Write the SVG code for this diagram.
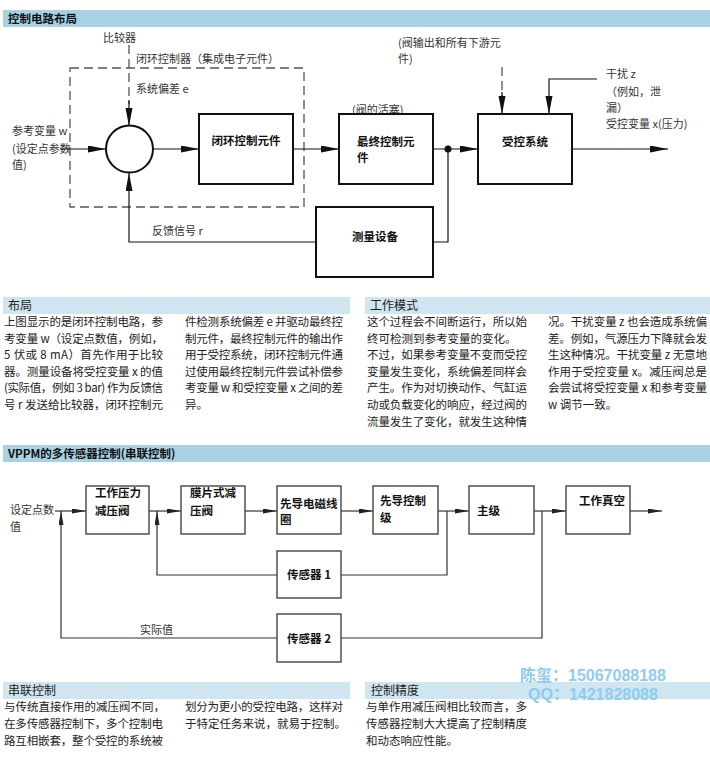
<svg xmlns="http://www.w3.org/2000/svg" width="710" height="770" viewBox="0 0 710 770">
<style>
text{font-family:"Noto Sans CJK SC","Liberation Sans",sans-serif;fill:#222;}
.t{font-size:11.5px;}
.lb{font-size:11px;fill:#333;}
.bx{font-size:11.5px;font-weight:bold;fill:#111;}
.h1{font-size:11.5px;font-weight:bold;fill:#111;}
.h2{font-size:12px;fill:#222;}
.bar1{fill:#a9d1e4;}
.bar2{fill:#cfe5f0;}
.box{fill:#fff;stroke:#111;stroke-width:2;}
.box2{fill:#fff;stroke:#444;stroke-width:1.4;}
.ln{fill:none;stroke:#111;stroke-width:1.2;}
.ln2{fill:none;stroke:#333;stroke-width:1.2;}
.dash{fill:none;stroke:#555;stroke-width:1.3;stroke-dasharray:9 5;}
.wm{font-family:"Liberation Sans","Noto Sans CJK SC",sans-serif;font-size:16px;font-weight:bold;fill:#8ccdf0;}
</style>
<defs>
<marker id="ah" markerUnits="userSpaceOnUse" markerWidth="19" markerHeight="8" refX="18" refY="3.5" orient="auto">
<path d="M0,0 L18,3.5 L0,7 Z" fill="#111"/>
</marker>
<marker id="ah2" markerUnits="userSpaceOnUse" markerWidth="15" markerHeight="6" refX="14" refY="2.5" orient="auto">
<path d="M0,0 L14,2.5 L0,5 Z" fill="#222"/>
</marker>
</defs>

<!-- Section 1 header -->
<rect class="bar1" x="3" y="10" width="707" height="17"/>
<text class="h1" x="8" y="23">控制电路布局</text>

<!-- Top diagram labels -->
<text class="lb" x="103" y="42">比较器</text>
<text class="lb" x="136" y="63">闭环控制器（集成电子元件）</text>
<text class="lb" x="136" y="93">系统偏差 e</text>
<text class="lb" x="12" y="135">参考变量 w</text>
<text class="lb" x="12" y="153">(设定点参数</text>
<text class="lb" x="12" y="169">值)</text>
<text class="lb" x="352" y="114">(阀的活塞)</text>
<text class="lb" x="398" y="47">(阀输出和所有下游元</text>
<text class="lb" x="398" y="63">件)</text>
<text class="lb" x="606" y="78">干扰 z</text>
<text class="lb" x="606" y="96">（例如，泄</text>
<text class="lb" x="606" y="112">漏）</text>
<text class="lb" x="606" y="128">受控变量 x(压力)</text>
<text class="lb" x="152" y="235">反馈信号 r</text>

<!-- Dashed controller box -->
<rect class="dash" x="70" y="68" width="234" height="139"/>

<!-- Connectors top -->
<g id="connectors-top">
<path class="dash" d="M129,45 V104" />
<path class="ln" d="M129,100 V126" marker-end="url(#ah)"/>
<path class="ln" d="M60,149 H106" marker-end="url(#ah)"/>
<path class="ln" d="M153,149 H199" marker-end="url(#ah)"/>
<path class="ln" d="M293,149 H339" marker-end="url(#ah)"/>
<path class="ln" d="M433,149 H478" marker-end="url(#ah)"/>
<path class="ln" d="M572,149 H668" marker-end="url(#ah)"/>
<path class="dash" d="M502,67 V96"/>
<path class="ln" d="M502,92 V114" marker-end="url(#ah)"/>
<path class="ln" d="M597,79 H549 V114" marker-end="url(#ah)"/>
<path class="ln" d="M448,149 V242 H433"/>
<path class="ln" d="M316,242 H129 V173" marker-end="url(#ah)"/>
<circle cx="448" cy="149" r="3.5" fill="#111"/>
</g>

<g id="comparator"><circle cx="129.5" cy="149" r="23.5" fill="#fff" stroke="#111" stroke-width="2"/></g>
<g id="controller-element"><rect class="box" x="199" y="114" width="94" height="70"/><text class="bx" x="246" y="145" text-anchor="middle">闭环控制元件</text></g>
<g id="final-element"><rect class="box" x="339" y="114" width="94" height="70"/><text class="bx" x="357" y="146">最终控制元</text><text class="bx" x="357" y="162">件</text></g>
<g id="controlled-system"><rect class="box" x="478" y="114" width="94" height="70"/><text class="bx" x="525" y="146" text-anchor="middle">受控系统</text></g>
<g id="measuring"><rect class="box" x="316" y="207" width="117" height="70"/><text class="bx" x="375" y="241" text-anchor="middle">测量设备</text></g>

<!-- Layout text -->
<rect class="bar2" x="3" y="297" width="347" height="17"/>
<text class="h2" x="8" y="310">布局</text>
<g class="t">
<text class="t" x="4" y="326" textLength="159" lengthAdjust="spacing">上图显示的是闭环控制电路，参</text>
<text class="t" x="4" y="342.6" textLength="159" lengthAdjust="spacing">考变量 w（设定点数值，例如，</text>
<text class="t" x="4" y="359.2" textLength="159" lengthAdjust="spacing">5 伏或 8 mA）首先作用于比较</text>
<text class="t" x="4" y="375.8" textLength="159" lengthAdjust="spacing">器。测量设备将受控变量 x 的值</text>
<text class="t" x="4" y="392.4" textLength="159" lengthAdjust="spacing">(实际值，例如 3 bar) 作为反馈信</text>
<text class="t" x="4" y="409" textLength="159" lengthAdjust="spacing">号 r 发送给比较器，闭环控制元</text>
<text class="t" x="185" y="326" textLength="158" lengthAdjust="spacing">件检测系统偏差 e 并驱动最终控</text>
<text class="t" x="185" y="342.6" textLength="158" lengthAdjust="spacing">制元件，最终控制元件的输出作</text>
<text class="t" x="185" y="359.2" textLength="158" lengthAdjust="spacing">用于受控系统，闭环控制元件通</text>
<text class="t" x="185" y="375.8" textLength="158" lengthAdjust="spacing">过使用最终控制元件尝试补偿参</text>
<text class="t" x="185" y="392.4" textLength="158" lengthAdjust="spacing">考变量 w 和受控变量 x 之间的差</text>
<text class="t" x="185" y="409">异。</text>
</g>

<rect class="bar2" x="365" y="297" width="345" height="17"/>
<text class="h2" x="370" y="310">工作模式</text>
<text class="t" x="367" y="326" textLength="160" lengthAdjust="spacing">这个过程会不间断运行，所以始</text>
<text class="t" x="367" y="342.6">终可检测到参考变量的变化。</text>
<text class="t" x="367" y="359.2" textLength="160" lengthAdjust="spacing">不过，如果参考变量不变而受控</text>
<text class="t" x="367" y="375.8" textLength="160" lengthAdjust="spacing">变量发生变化，系统偏差同样会</text>
<text class="t" x="367" y="392.4" textLength="160" lengthAdjust="spacing">产生。作为对切换动作、气缸运</text>
<text class="t" x="367" y="409" textLength="160" lengthAdjust="spacing">动或负载变化的响应，经过阀的</text>
<text class="t" x="367" y="425.6" textLength="160" lengthAdjust="spacing">流量发生了变化，就发生这种情</text>
<text class="t" x="548" y="326" textLength="159" lengthAdjust="spacing">况。干扰变量 z 也会造成系统偏</text>
<text class="t" x="548" y="342.6" textLength="159" lengthAdjust="spacing">差。例如，气源压力下降就会发</text>
<text class="t" x="548" y="359.2" textLength="159" lengthAdjust="spacing">生这种情况。干扰变量 z 无意地</text>
<text class="t" x="548" y="375.8" textLength="159" lengthAdjust="spacing">作用于受控变量 x。减压阀总是</text>
<text class="t" x="548" y="392.4" textLength="159" lengthAdjust="spacing">会尝试将受控变量 x 和参考变量</text>
<text class="t" x="548" y="409">w 调节一致。</text>

<!-- Section 2 header -->
<rect class="bar1" x="3" y="445" width="707" height="17"/>
<text class="h1" x="8" y="458">VPPM的多传感器控制(串联控制)</text>

<text class="lb" x="10" y="514">设定点数</text>
<text class="lb" x="10" y="531">值</text>
<text class="lb" x="140" y="634">实际值</text>

<g id="connectors-bottom">
<path class="ln2" d="M55,511 H86" marker-end="url(#ah2)"/>
<path class="ln2" d="M149,511 H181" marker-end="url(#ah2)"/>
<path class="ln2" d="M245,511 H277" marker-end="url(#ah2)"/>
<path class="ln2" d="M341,511 H373" marker-end="url(#ah2)"/>
<path class="ln2" d="M438,511 H469" marker-end="url(#ah2)"/>
<path class="ln2" d="M534,511 H566" marker-end="url(#ah2)"/>
<path class="ln2" d="M630,511 H662" marker-end="url(#ah2)"/>
<path class="ln2" d="M447,511 V575 H341"/>
<path class="ln2" d="M542,511 V638 H341"/>
<path class="ln2" d="M277,575 H157 V511" marker-end="url(#ah2)"/>
<path class="ln2" d="M277,638 H61 V511" marker-end="url(#ah2)"/>
</g>

<g id="working-pressure-valve"><rect class="box2" x="86" y="486" width="63" height="48"/><text class="bx" x="95" y="497">工作压力</text><text class="bx" x="95" y="515">减压阀</text></g>
<g id="diaphragm-valve"><rect class="box2" x="181" y="486" width="64" height="48"/><text class="bx" x="190" y="497">膜片式减</text><text class="bx" x="190" y="515">压阀</text></g>
<g id="pilot-solenoid"><rect class="box2" x="277" y="486" width="64" height="48"/><text class="bx" x="280" y="508">先导电磁线</text><text class="bx" x="280" y="524">圈</text></g>
<g id="pilot-stage"><rect class="box2" x="373" y="486" width="65" height="48"/><text class="bx" x="380" y="505">先导控制</text><text class="bx" x="380" y="522">级</text></g>
<g id="main-stage"><rect class="box2" x="469" y="486" width="65" height="48"/><text class="bx" x="477" y="515">主级</text></g>
<g id="working-vacuum"><rect class="box2" x="566" y="486" width="64" height="48"/><text class="bx" x="579" y="505">工作真空</text></g>
<g id="sensor1"><rect class="box2" x="277" y="551" width="64" height="47"/><text class="bx" x="309" y="579" text-anchor="middle">传感器 1</text></g>
<g id="sensor2"><rect class="box2" x="277" y="614" width="64" height="48"/><text class="bx" x="309" y="643" text-anchor="middle">传感器 2</text></g>

<!-- Bottom text -->
<rect class="bar2" x="3" y="682" width="347" height="17"/>
<text class="h2" x="8" y="695">串联控制</text>
<text class="t" x="4" y="711">与传统直接作用的减压阀不同，</text>
<text class="t" x="4" y="728" textLength="159" lengthAdjust="spacing">在多传感器控制下，多个控制电</text>
<text class="t" x="4" y="745" textLength="159" lengthAdjust="spacing">路互相嵌套，整个受控的系统被</text>
<text class="t" x="185" y="711" textLength="158" lengthAdjust="spacing">划分为更小的受控电路，这样对</text>
<text class="t" x="185" y="728">于特定任务来说，就易于控制。</text>

<rect class="bar2" x="365" y="682" width="345" height="17"/>
<text class="h2" x="371" y="695">控制精度</text>
<text class="t" x="366" y="711" textLength="161" lengthAdjust="spacing">与单作用减压阀相比较而言，多</text>
<text class="t" x="366" y="728" textLength="161" lengthAdjust="spacing">传感器控制大大提高了控制精度</text>
<text class="t" x="366" y="745">和动态响应性能。</text>

<text class="wm" x="520" y="681">陈玺：15067088188</text>
<text class="wm" x="528" y="700">QQ：1421828088</text>
</svg>
